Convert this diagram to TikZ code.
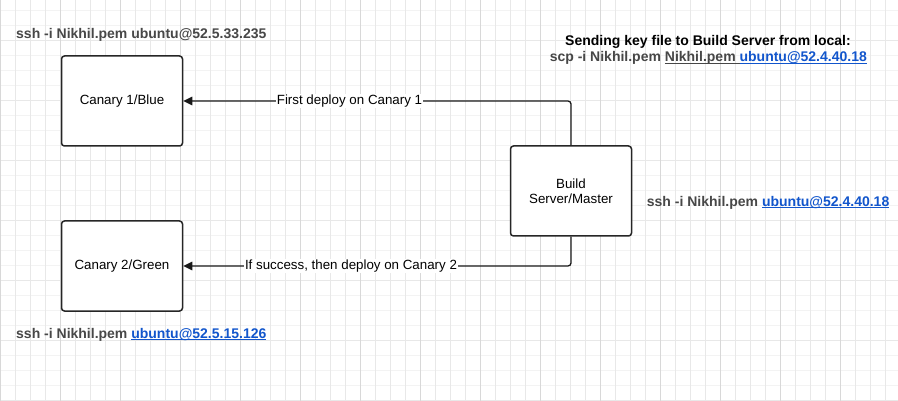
\documentclass[tikz,border=0pt]{standalone}
\usepackage{fontspec}
\setmainfont{Liberation Sans}
\usetikzlibrary{arrows.meta}
\definecolor{gtxt}{HTML}{474747}
\definecolor{lnk}{HTML}{1155CC}
\definecolor{gvl}{HTML}{E8E8E8}
\definecolor{gvd}{HTML}{D8D8D8}
\definecolor{ghl}{HTML}{F3F3F3}
\definecolor{ghd}{HTML}{E8E8E8}
\newcommand\ulnk[1]{\setbox0\hbox{#1}\rlap{\rule[-1.7pt]{\wd0}{1pt}}\box0}
\newcommand\lnkul[1]{{\color{lnk}\ulnk{#1}}}
\begin{document}
\begin{tikzpicture}[x=1pt,y=-1pt,
  box/.style={draw=black!85, line width=1.5pt, rounded corners=3pt, minimum width=121pt, minimum height=90pt, inner sep=0pt, align=center, font=\fontsize{13.33}{15.5}\selectfont, fill=white},
  conn/.style={line width=1.3pt, draw=black!90, rounded corners=3pt, -{Triangle[length=9pt,width=8.5pt]}},
  elab/.style={fill=white, inner sep=1pt, font=\fontsize{13.33}{15}\selectfont},
  cmd/.style={font=\bfseries\fontsize{14}{16}\selectfont, text=gtxt, inner sep=0pt, anchor=base west},
  gridv/.style={draw=gvl, line width=1pt},
  gridvd/.style={draw=gvd, line width=1pt},
  gridh/.style={draw=ghl, line width=1pt},
  gridhd/.style={draw=ghd, line width=1pt}]
\fill[white] (0,0) rectangle (898,401);
\useasboundingbox (0,0) rectangle (898,401);
% grid
\foreach \y in {10.7,25.7,...,401} \draw[gridh] (0,\y) -- (898,\y);
\foreach \y in {40.7,100.7,...,401} \draw[gridhd] (0,\y) -- (898,\y);
\foreach \x in {0,15,...,885} \draw[gridv] (\x,0) -- (\x,401);
\foreach \x in {0,60,...,840} \draw[gridvd] (\x,0) -- (\x,401);
% boxes
\node[box] (c1) at (122,101) {Canary 1/Blue};
\node[box] (c2) at (122,266) {Canary 2/Green};
\node[box] (bs) at (571,191) {Build\\Server/Master};
% connectors
\draw[conn] (bs.north) |- (c1.east);
\draw[conn] (bs.south) |- (c2.east);
\node[elab] (l1) at (349.5,101) {First deploy on Canary 1};
\node[elab] (l2) at (351,266) {If success, then deploy on Canary 2};
% texts
\node[cmd] (s1) at (16,38.3) {ssh -i Nikhil.pem ubuntu@52.5.33.235};
\node[cmd] (s2) at (16,338) {ssh -i Nikhil.pem \lnkul{ubuntu@52.5.15.126}};
\node[cmd] (s3) at (646.7,206.7) {ssh -i Nikhil.pem \lnkul{ubuntu@52.4.40.18}};
\node[cmd, anchor=base, text=black] (h1) at (708,46) {Sending key file to Build Server from local:};
\node[cmd, anchor=base] (h2) at (708.3,62) {scp -i Nikhil.pem \ulnk{Nikhil.pem }\lnkul{ubuntu@52.4.40.18}};
\end{tikzpicture}
\end{document}
